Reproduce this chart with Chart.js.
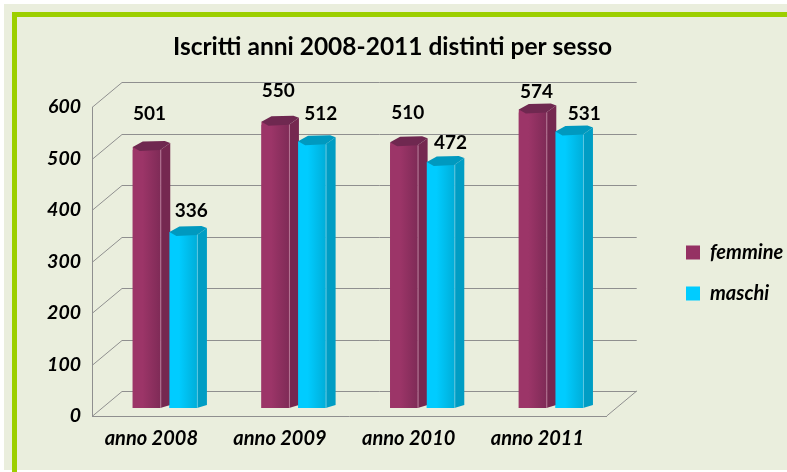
<!DOCTYPE html>
<html>
<head>
<meta charset="utf-8">
<title>Iscritti anni 2008-2011</title>
<script src="https://cdn.jsdelivr.net/npm/chart.js@4"></script>
<style>
    html, body { margin: 0; padding: 0; background: #fff; overflow: hidden; }
    #panel { position: absolute; left: 4px; top: 4px; width: 783px; height: 466px; background: #eaeedd; }
    #frame { position: absolute; left: 12px; top: 12px; width: 775px; height: 460px; border-top: 5px solid #9ccf00; border-left: 5px solid #9ccf00; box-sizing: border-box; }
    #chart { position: absolute; left: 0; top: 0; }
</style>
</head>
<body>
<div id="panel"></div>
<div id="frame"></div>
<canvas id="chart" width="787" height="472"></canvas>
<script>
const categories = ['anno 2008', 'anno 2009', 'anno 2010', 'anno 2011'];
const femmine = [501, 550, 510, 574];
const maschi = [336, 512, 472, 531];
const yTicks = [0, 100, 200, 300, 400, 500, 600];

// value labels sit by hand in the original, so each one has its own nudge
const femmineNudge = [[-2, 36], [-2, 34], [-1, 32], [-1, 21]];
const maschiNudge = [[3, 24], [4, 30], [5, 22], [10, 21]];

const FONT = 'Lato, Carlito, sans-serif';
const GREY = '#8f8f8f';
const DEPTH_X = 30;
const DEPTH_Y = 25;
const SHIFT_X = 8.5;
const SHIFT_Y = -8;

const looks = [
    { left: '#9c3568', right: '#7f2b57', side: '#752850', cap: '#6f2850', edge: '#b77a98' },
    { left: '#00ccff', right: '#00aed9', side: '#009dc4', cap: '#0099bf', edge: '#5fc8e2' }
];

function drawColumn(ctx, bar, look) {
    const x = bar.x - bar.width / 2;
    const w = bar.width;
    const y = bar.y;
    const base = bar.base;

    // front
    const grad = ctx.createLinearGradient(x, 0, x + w, 0);
    grad.addColorStop(0, look.left);
    grad.addColorStop(0.35, look.left);
    grad.addColorStop(1, look.right);
    ctx.fillStyle = grad;
    ctx.fillRect(x, y - 3, w, base - y + 3);

    // side
    ctx.fillStyle = look.side;
    ctx.beginPath();
    ctx.moveTo(x + w, y);
    ctx.lineTo(x + w + 10, y - 7);
    ctx.lineTo(x + w + 10, base - 3);
    ctx.lineTo(x + w, base);
    ctx.closePath();
    ctx.fill();

    ctx.strokeStyle = look.edge;
    ctx.lineWidth = 1;
    ctx.beginPath();
    ctx.moveTo(x + w + 0.5, y);
    ctx.lineTo(x + w + 0.5, base);
    ctx.stroke();

    // top
    ctx.fillStyle = look.cap;
    ctx.beginPath();
    ctx.moveTo(x, y - 3);
    ctx.lineTo(x + 10, y - 8.5);
    ctx.lineTo(x + 32, y - 9);
    ctx.lineTo(x + w + 10, y - 7);
    ctx.lineTo(x + w, y);
    ctx.lineTo(x + 7, y + 1);
    ctx.closePath();
    ctx.fill();
}

const walls = {
    id: 'walls',
    afterLayout(chart) {
        // legend sits well off the plot and below the middle
        const legend = chart.legend;
        legend.left = 665;
        legend.right = 787;
        legend.top += 37;
        legend.bottom += 37;
        // title is centred on the whole page, not on the padded area
        chart.titleBlock.left += 25;
        chart.titleBlock.right += 25;
    },
    beforeDatasetsDraw(chart) {
        const ctx = chart.ctx;
        const y = chart.scales.y;
        const area = chart.chartArea;
        ctx.save();
        ctx.strokeStyle = GREY;
        ctx.lineWidth = 1;
        y.ticks.forEach(function (t) {
            const py = Math.round(y.getPixelForValue(t.value)) + 0.5;
            ctx.beginPath();
            ctx.moveTo(area.left, py);
            ctx.lineTo(area.left + DEPTH_X, py - DEPTH_Y);
            ctx.lineTo(area.right + DEPTH_X, py - DEPTH_Y);
            ctx.stroke();
        });
        ctx.beginPath();
        ctx.moveTo(area.right, area.bottom);
        ctx.lineTo(area.right + DEPTH_X, area.bottom - DEPTH_Y);
        ctx.stroke();
        ctx.restore();
    },
    beforeDatasetDraw(chart) {
        chart.ctx.save();
        chart.ctx.translate(SHIFT_X, SHIFT_Y);
    },
    afterDatasetDraw(chart) {
        chart.ctx.restore();
    },
    afterDatasetsDraw(chart) {
        const ctx = chart.ctx;
        ctx.save();
        ctx.translate(SHIFT_X, SHIFT_Y);
        // femmine first so the maschi column covers its side
        [0, 1].forEach(function (i) {
            chart.getDatasetMeta(i).data.forEach(function (bar) {
                drawColumn(ctx, bar, looks[i]);
            });
        });
        ctx.fillStyle = '#000';
        ctx.font = 'bold 19px ' + FONT;
        ctx.textAlign = 'center';
        ctx.textBaseline = 'middle';
        [femmineNudge, maschiNudge].forEach(function (nudge, i) {
            const values = chart.data.datasets[i].data;
            chart.getDatasetMeta(i).data.forEach(function (bar, j) {
                ctx.fillText(values[j], bar.x + 5 + nudge[j][0], bar.y - nudge[j][1]);
            });
        });
        ctx.restore();
    }
};

new Chart(document.getElementById('chart'), {
    type: 'bar',
    data: {
        labels: categories,
        datasets: [
            { label: 'femmine', data: femmine, backgroundColor: '#953163' },
            { label: 'maschi', data: maschi, backgroundColor: '#00ccff' }
        ]
    },
    options: {
        responsive: false,
        animation: false,
        categoryPercentage: 0.57,
        barPercentage: 0.75,
        layout: { padding: { left: 0, right: 52, top: 0, bottom: 0 } },
        plugins: {
            tooltip: { enabled: false },
            title: {
                display: true,
                text: 'Iscritti anni 2008-2011 distinti per sesso',
                color: '#000',
                font: { family: FONT, size: 24.5, weight: 'bold', lineHeight: 1.2 },
                padding: { top: 32, bottom: 45.6 }
            },
            legend: {
                position: 'right',
                labels: {
                    boxWidth: 14,
                    boxHeight: 14,
                    padding: 21,
                    color: '#000',
                    font: { family: FONT, size: 20, weight: 'bold', style: 'italic' }
                }
            }
        },
        scales: {
            x: {
                afterFit(scale) { scale.height = 56; },
                grid: { display: false },
                border: { color: GREY },
                ticks: {
                    color: '#000',
                    padding: 3,
                    labelOffset: -5,
                    maxRotation: 0,
                    font: { family: FONT, size: 20, weight: 'bold', style: 'italic' }
                }
            },
            y: {
                min: 0,
                max: 600,
                afterFit(scale) { scale.width = 92; },
                afterBuildTicks(scale) { scale.ticks = yTicks.map(function (v) { return { value: v }; }); },
                grid: { display: false },
                border: { color: GREY },
                ticks: {
                    color: '#000',
                    padding: 3,
                    font: { family: FONT, size: 19.5, weight: 'bold', style: 'italic' }
                }
            }
        }
    },
    plugins: [walls]
});
</script>
</body>
</html>
